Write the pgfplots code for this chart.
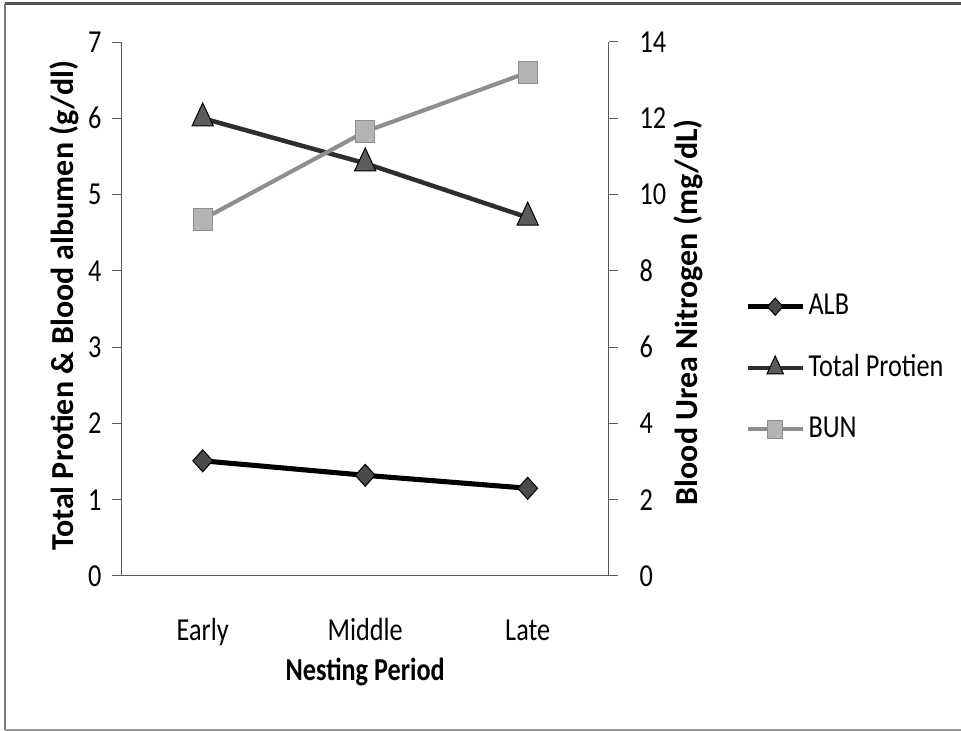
\documentclass[border=0pt]{standalone}
\usepackage{fontspec}
\setmainfont{Carlito}[FakeStretch=0.82]
\newfontfamily\rotfont{Carlito}
\usepackage{pgfplots}
\usepackage{pgfplotstable}
\pgfplotsset{compat=1.18}
\definecolor{axisgray}{HTML}{5A5A5A}
\definecolor{albfill}{HTML}{4A4A4A}
\definecolor{tpline}{HTML}{2E2E2E}
\definecolor{tpfill}{HTML}{5C5C5C}
\definecolor{bunline}{HTML}{8E8E8E}
\definecolor{bunfill}{HTML}{B4B4B4}

\pgfplotstableread{
x alb tp bun
0 1.51 6.00 9.35
1 1.32 5.41 11.65
2 1.15 4.70 13.20
}\datatable

\pgfplotsset{
  albstyle/.style={black, line width=3.8pt, mark=diamond*, mark size=8.25pt,
    mark options={fill=albfill, draw=black, line width=0.75pt, xscale=1.2}},
  tpstyle/.style={tpline, line width=3.4pt, mark=triangle*, mark size=11.5pt,
    mark options={fill=tpfill, draw=black, line width=0.75pt, xscale=0.8}},
  bunstyle/.style={bunline, line width=3.1pt, mark=square*, mark size=8.5pt,
    mark options={fill=bunfill, draw=bunline, line width=0.75pt, xscale=0.85}},
  commonaxis/.style={
    at={(91.1pt,116.25pt)}, anchor=south west,
    scale only axis, width=365.6pt, height=400.5pt,
    xmin=-0.5, xmax=2.5, clip=false,
    axis line style={axisgray, line width=0.75pt},
    tick style={axisgray, line width=0.75pt},
    tick align=outside, major tick length=6.75pt,
    /pgf/number format/assume math mode=true,
  },
}

\begin{document}
\fontsize{24}{29}\selectfont
\begin{tikzpicture}
\useasboundingbox (0,0) rectangle (720.75pt,548.25pt);
\draw[color={rgb,255:red,120;green,120;blue,120}, line width=1.5pt] (4.1pt,545pt) -- (4.1pt,1.1pt);
\draw[color={rgb,255:red,150;green,150;blue,150}, line width=1.5pt] (4.1pt,1.1pt) -- (730pt,1.1pt);
\draw[color={rgb,255:red,80;green,80;blue,80}, line width=2pt] (3.4pt,545.5pt) -- (730pt,545.5pt);

\begin{axis}[commonaxis,
  axis y line*=left, axis x line*=bottom,
  ymin=0, ymax=7, ytick={0,1,...,7},
  xtick={0,1,2}, xticklabels={Early,Middle,Late},
  xtick style={draw=none},
  xticklabel style={anchor=base, yshift=-42pt},
  xlabel={Nesting Period},
  xlabel style={font=\bfseries, at={(axis description cs:0.5,-0.195)}, anchor=base},
  ylabel={Total Protien \& Blood albumen (g/dl)},
  ylabel style={font=\rotfont\bfseries, at={(axis description cs:-0.118,0.506)}, anchor=center},
  legend style={draw=none, fill=none, inner sep=0pt,
    at={(axis description cs:1.279,0.3895)}, anchor=west,
    row sep=26pt,
    nodes={inner sep=0pt, inner xsep=2.5pt, text height=16pt, text depth=4pt}},
  legend cell align=left,
  legend image code/.code={\draw[mark repeat=2, mark phase=2, every mark/.append style={scale=0.78}]
    plot coordinates {(0pt,0pt) (20.6pt,0pt) (41.2pt,0pt)};},
]
\addplot[albstyle] table[x=x, y=alb] {\datatable};
\addlegendentry{ALB}
\addplot[tpstyle] table[x=x, y=tp] {\datatable};
\addlegendentry{Total Protien}
\addlegendimage{bunstyle}
\addlegendentry{BUN}
\end{axis}

\begin{axis}[commonaxis,
  axis y line*=right, axis x line=none,
  ymin=0, ymax=14, ytick={0,2,...,14},
  yticklabel style={xshift=8pt},
  ylabel={Blood Urea Nitrogen (mg/dL)},
  ylabel style={font=\rotfont\bfseries, at={(axis description cs:1.163,0.494)}, anchor=center},
]
\addplot[bunstyle] table[x=x, y=bun] {\datatable};
\end{axis}
\end{tikzpicture}
\end{document}
